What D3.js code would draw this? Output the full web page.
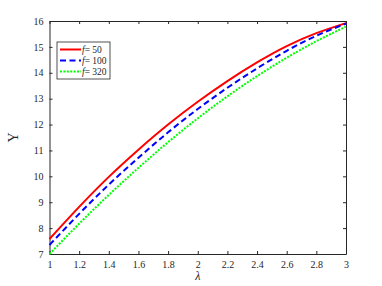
<!DOCTYPE html>
<html lang="en">
<head>
<meta charset="utf-8">
<title>Upsilon vs lambda</title>
<script src="https://d3js.org/d3.v7.min.js"></script>
<style>
  * { margin:0; padding:0; box-sizing:border-box; }
  body { background:#fff; width:382px; height:286px; overflow:hidden; }
  .axis path, .axis line { stroke:#262626; }
</style>
</head>
<body>
<div id="chart"></div>
<script>
// ─── Data ───
const lambda = [1.0, 1.2, 1.4, 1.6, 1.8, 2.0, 2.2, 2.4, 2.6, 2.8, 3.0];
const ups50  = [7.58, 8.82, 9.98, 11.03, 12.00, 12.88, 13.68, 14.40, 15.03, 15.53, 15.92];
const ups100 = [7.35, 8.55, 9.68, 10.72, 11.70, 12.60, 13.42, 14.17, 14.85, 15.43, 15.90];
const ups320 = [7.00, 8.17, 9.28, 10.33, 11.32, 12.24, 13.09, 13.87, 14.58, 15.22, 15.78];
const fLabels = ['50', '100', '320'];
const xTicks = [1, 1.2, 1.4, 1.6, 1.8, 2, 2.2, 2.4, 2.6, 2.8, 3];
const yTicks = [7, 8, 9, 10, 11, 12, 13, 14, 15, 16];

const series = [
  { f: fLabels[0], values: ups50,  color: '#ff0000', dash: null },
  { f: fLabels[1], values: ups100, color: '#0000ff', dash: '6,3.5' },
  { f: fLabels[2], values: ups320, color: '#00ff00', dash: '2,1.4' }
];

const FONT = "'Liberation Serif', 'Times New Roman', serif";
const W = 382, H = 286;
const m = { left: 49.5, right: 36, top: 21, bottom: 32 };

const svg = d3.select('#chart').append('svg')
  .attr('width', W).attr('height', H);

const x = d3.scaleLinear().domain([1, 3]).range([m.left, W - m.right]);
const y = d3.scaleLinear().domain([7, 16]).range([H - m.bottom, m.top]);

// Axes (box with inward ticks on all sides)
const fmt = d => String(d);
const styleText = g => g.attr('font-family', FONT).selectAll('text')
  .attr('font-size', 10).attr('fill', '#262626');
svg.append('g').attr('class', 'axis')
  .attr('transform', `translate(0,${y(7)})`)
  .call(d3.axisBottom(x).tickValues(xTicks).tickFormat(fmt).tickSizeInner(-3).tickSizeOuter(0).tickPadding(7))
  .call(styleText);
svg.append('g').attr('class', 'axis')
  .attr('transform', `translate(0,${y(16)})`)
  .call(d3.axisTop(x).tickValues(xTicks).tickFormat('').tickSizeInner(-3).tickSizeOuter(0));
svg.append('g').attr('class', 'axis')
  .attr('transform', `translate(${x(1)},0)`)
  .call(d3.axisLeft(y).tickValues(yTicks).tickFormat(fmt).tickSizeInner(-3).tickSizeOuter(0).tickPadding(6))
  .call(styleText);
svg.append('g').attr('class', 'axis')
  .attr('transform', `translate(${x(3)},0)`)
  .call(d3.axisRight(y).tickValues(yTicks).tickFormat('').tickSizeInner(-3).tickSizeOuter(0));

// Curves
const line = d3.line()
  .x((d, i) => x(lambda[i]))
  .y(d => y(d))
  .curve(d3.curveNatural);

series.forEach(s => {
  svg.append('path')
    .datum(s.values)
    .attr('d', line)
    .attr('fill', 'none')
    .attr('stroke', s.color)
    .attr('stroke-width', 2)
    .attr('stroke-dasharray', s.dash);
});

// Axis labels
svg.append('text')
  .attr('x', x(2)).attr('y', 280)
  .attr('text-anchor', 'middle')
  .attr('font-family', FONT).attr('fill', '#262626')
  .attr('font-size', 12).attr('font-style', 'italic')
  .text('λ');
svg.append('text')
  .attr('transform', `translate(18,${y(11.5)}) rotate(-90)`)
  .attr('text-anchor', 'middle')
  .attr('font-family', FONT).attr('fill', '#262626')
  .attr('font-size', 14)
  .text('Υ');

// Legend
const lg = svg.append('g').attr('transform', 'translate(57,42)');
lg.append('rect')
  .attr('width', 53).attr('height', 37)
  .attr('fill', '#fff').attr('stroke', '#262626').attr('stroke-width', 0.8);
series.forEach((s, i) => {
  const yy = 7.5 + i * 11;
  lg.append('line')
    .attr('x1', 3).attr('x2', 24).attr('y1', yy).attr('y2', yy)
    .attr('stroke', s.color).attr('stroke-width', 2)
    .attr('stroke-dasharray', s.dash);
  const t = lg.append('text').attr('x', 25).attr('y', yy + 3.5)
    .attr('font-family', FONT).attr('fill', '#262626').attr('font-size', 9.5);
  t.append('tspan').attr('font-style', 'italic').text('f');
  t.append('tspan').text('= ' + s.f);
});
</script>
</body>
</html>
